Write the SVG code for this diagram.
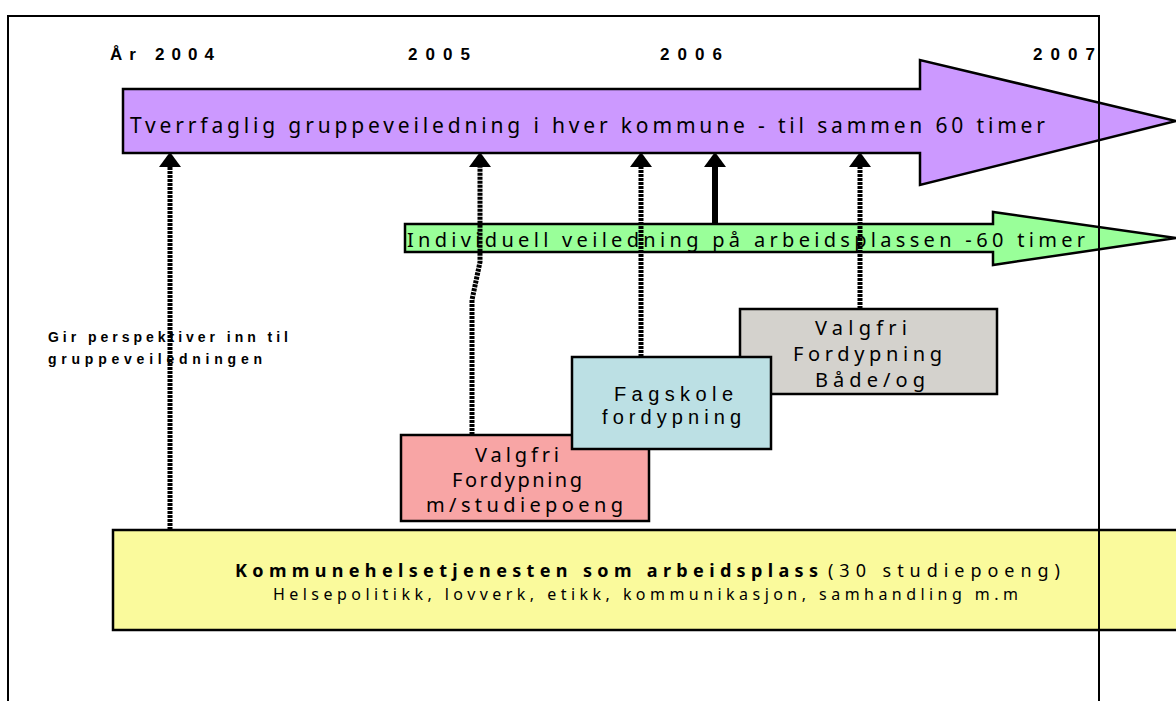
<svg xmlns="http://www.w3.org/2000/svg" width="1176" height="701" viewBox="0 0 1176 701">
<style>
.box{stroke:#000;stroke-width:2.5}
.yr{font-family:"Liberation Sans",Arial,sans-serif;font-weight:bold;font-size:17px;fill:#000}
.cs{font-family:"Noto Sans","DejaVu Sans",sans-serif;fill:#000}
.ar{font-family:"Liberation Sans",Arial,sans-serif;fill:#000}
.conn{fill:none;stroke:#000;stroke-width:5;stroke-dasharray:3 1}
</style>
<defs>
<marker id="head" viewBox="0 0 15 22" refX="0" refY="11" markerWidth="15" markerHeight="22" markerUnits="userSpaceOnUse" orient="auto">
<path d="M0,0 L15,11 L0,22 z" fill="#000"/>
</marker>
</defs>
<rect width="1176" height="701" fill="#fff"/>

<g id="years">
<text class="yr" x="110" y="60" textLength="104" lengthAdjust="spacing">År 2004</text>
<text class="yr" x="408" y="60" textLength="62" lengthAdjust="spacing">2005</text>
<text class="yr" x="660" y="60" textLength="62" lengthAdjust="spacing">2006</text>
<text class="yr" x="1033" y="60" textLength="62" lengthAdjust="spacing">2007</text>
</g>

<g id="yellow">
<rect class="box" x="113" y="530" width="1070" height="100" fill="#fafa9c"/>
<text class="cs" x="235" y="577" font-size="18"><tspan font-weight="bold" textLength="583" lengthAdjust="spacing">Kommunehelsetjenesten som arbeidsplass</tspan><tspan x="828" textLength="232" lengthAdjust="spacing">(30 studiepoeng)</tspan></text>
<text class="cs" x="273" y="600" font-size="16" textLength="745" lengthAdjust="spacing">Helsepolitikk, lovverk, etikk, kommunikasjon, samhandling m.m</text>
</g>

<g id="purple-arrow">
<polygon class="box" points="123,89 920,89 920,60 1176,121 920,185 920,153 123,153" fill="#cc99ff"/>
<text class="cs" x="130" y="133" font-size="21" textLength="915" lengthAdjust="spacing">Tverrfaglig gruppeveiledning i hver kommune - til sammen 60 timer</text>
</g>

<g id="green-arrow">
<polygon class="box" points="405,224 993,224 993,212 1176,238 993,265 993,252 405,252" fill="#99ff99"/>
<text class="cs" x="407" y="247" font-size="20" textLength="678" lengthAdjust="spacing">Individuell veiledning på arbeidsplassen -60 timer</text>
</g>

<g id="note">
<text class="ar" x="48" y="342" font-size="14" font-weight="bold" textLength="240" lengthAdjust="spacing">Gir perspektiver inn til</text>
<text class="ar" x="48" y="364" font-size="14" font-weight="bold" textLength="214" lengthAdjust="spacing">gruppeveiledningen</text>
</g>

<g id="grey-box">
<rect class="box" x="740" y="309" width="257" height="85" fill="#d4d2cd"/>
<text class="cs" x="815" y="335" font-size="20" textLength="92" lengthAdjust="spacing">Valgfri</text>
<text class="cs" x="793" y="361" font-size="20" textLength="149" lengthAdjust="spacing">Fordypning</text>
<text class="cs" x="815" y="387" font-size="20" textLength="110" lengthAdjust="spacing">Både/og</text>
</g>

<g id="pink-box">
<rect class="box" x="401" y="435" width="248" height="86" fill="#f8a5a5"/>
<text class="cs" x="475" y="462" font-size="20" textLength="84" lengthAdjust="spacing">Valgfri</text>
<text class="cs" x="452" y="487" font-size="20" textLength="130" lengthAdjust="spacing">Fordypning</text>
<text class="cs" x="426" y="512" font-size="20" textLength="197" lengthAdjust="spacing">m/studiepoeng</text>
</g>

<g id="fagskole-box">
<rect class="box" x="572" y="357" width="199" height="92" fill="#bce0e4"/>
<text class="ar" x="614" y="401" font-size="20" textLength="119" lengthAdjust="spacing">Fagskole</text>
<text class="ar" x="602" y="424" font-size="20" textLength="139" lengthAdjust="spacing">fordypning</text>
</g>

<g id="connectors">
<path class="conn" d="M170,530 V167" marker-end="url(#head)"/>
<path class="conn" d="M472,435 V300 L480,262 V167" marker-end="url(#head)"/>
<path class="conn" d="M641,357 V167" marker-end="url(#head)"/>
<path class="conn" d="M715,224 V167" style="stroke-width:6;stroke-dasharray:none" marker-end="url(#head)"/>
<path class="conn" d="M860,309 V167" marker-end="url(#head)"/>
</g>

<g id="frame">
<path d="M8,701 V16 H1099 V701" fill="none" stroke="#000" stroke-width="2"/>
</g>
</svg>
